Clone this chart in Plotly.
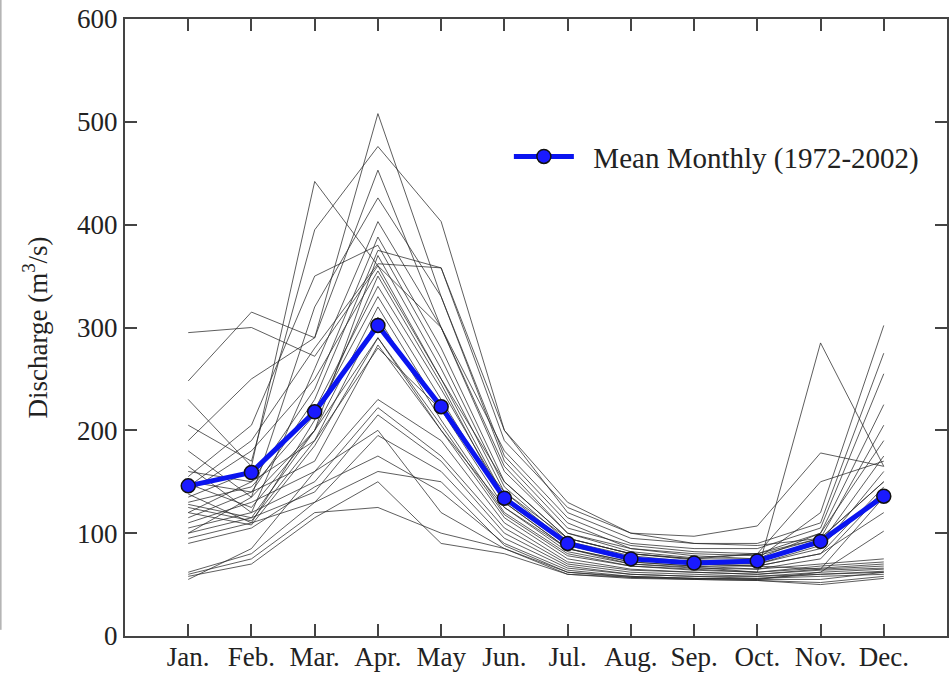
import plotly.graph_objects as go

months = ["Jan.", "Feb.", "Mar.", "Apr.", "May", "Jun.", "Jul.", "Aug.", "Sep.", "Oct.", "Nov.", "Dec."]
month_pos = list(range(1, 13))

mean_monthly = [146, 159, 218, 302, 223, 134, 90, 75, 71, 73, 92, 136]

y1972 = [295, 300, 272, 360, 300, 160, 100, 82, 76, 80, 95, 150]
y1973 = [248, 315, 290, 508, 330, 175, 110, 85, 78, 75, 120, 302]
y1974 = [230, 165, 442, 360, 250, 150, 95, 80, 74, 70, 88, 140]
y1975 = [205, 170, 395, 476, 403, 200, 120, 95, 90, 90, 110, 275]
y1976 = [190, 250, 290, 453, 300, 180, 115, 90, 85, 85, 105, 255]
y1977 = [180, 135, 320, 426, 330, 170, 105, 88, 82, 80, 100, 225]
y1978 = [165, 120, 260, 403, 300, 165, 100, 85, 80, 78, 95, 205]
y1979 = [160, 150, 240, 388, 280, 150, 95, 80, 75, 75, 100, 190]
y1980 = [155, 205, 350, 380, 270, 145, 92, 78, 72, 72, 90, 175]
y1981 = [150, 140, 230, 375, 358, 190, 125, 100, 97, 107, 178, 165]
y1982 = [148, 125, 200, 370, 260, 140, 90, 75, 70, 70, 85, 160]
y1983 = [145, 190, 280, 362, 358, 200, 130, 100, 90, 88, 95, 150]
y1984 = [140, 180, 250, 355, 250, 135, 88, 74, 70, 68, 80, 145]
y1985 = [138, 110, 210, 350, 245, 130, 85, 72, 68, 65, 75, 140]
y1986 = [135, 160, 220, 340, 240, 135, 90, 75, 70, 68, 65, 135]
y1987 = [130, 145, 215, 330, 230, 130, 85, 70, 67, 62, 285, 165]
y1988 = [128, 115, 200, 320, 220, 125, 82, 70, 66, 65, 70, 75]
y1989 = [125, 112, 190, 310, 210, 120, 80, 68, 65, 62, 68, 72]
y1990 = [120, 108, 185, 290, 205, 118, 78, 68, 64, 62, 66, 70]
y1991 = [115, 140, 170, 283, 200, 115, 75, 65, 62, 60, 65, 68]
y1992 = [110, 130, 160, 230, 190, 110, 72, 64, 62, 60, 64, 66]
y1993 = [105, 120, 150, 222, 175, 105, 70, 62, 60, 58, 62, 65]
y1994 = [100, 115, 140, 215, 170, 100, 68, 60, 58, 58, 60, 63]
y1995 = [95, 110, 130, 195, 160, 95, 66, 60, 58, 56, 60, 62]
y1996 = [90, 105, 145, 175, 140, 90, 64, 58, 56, 56, 58, 60]
y1997 = [62, 80, 130, 160, 150, 88, 62, 58, 56, 55, 55, 62]
y1998 = [60, 75, 120, 125, 100, 85, 60, 57, 55, 54, 52, 58]
y1999 = [58, 70, 115, 150, 90, 80, 60, 56, 55, 54, 50, 56]
y2000 = [55, 85, 160, 200, 120, 85, 62, 57, 56, 55, 62, 102]
y2001 = [100, 135, 200, 290, 200, 125, 85, 72, 68, 68, 80, 120]
y2002 = [120, 150, 190, 280, 220, 140, 95, 80, 75, 80, 150, 170]

years = [y1972, y1973, y1974, y1975, y1976, y1977, y1978, y1979, y1980, y1981,
         y1982, y1983, y1984, y1985, y1986, y1987, y1988, y1989, y1990, y1991,
         y1992, y1993, y1994, y1995, y1996, y1997, y1998, y1999, y2000, y2001, y2002]

y_ticks = [0, 100, 200, 300, 400, 500, 600]

fig = go.Figure()
for yr in years:
    fig.add_trace(go.Scatter(
        x=month_pos, y=yr, mode="lines",
        line=dict(color="rgba(40,40,40,0.75)", width=1),
        showlegend=False, hoverinfo="skip"))

fig.add_trace(go.Scatter(
    x=month_pos, y=mean_monthly, mode="lines+markers",
    name="\u00a0\u00a0Mean Monthly (1972-2002)",
    line=dict(color="#0a14f0", width=5),
    marker=dict(symbol="circle", size=14, color="#1a1aff",
                line=dict(color="#111111", width=1.5))))

axis_common = dict(
    showline=True, linecolor="#444444", linewidth=2, mirror="allticks",
    ticks="inside", ticklen=12, tickwidth=2, tickcolor="#444444",
    showgrid=False, zeroline=False, automargin=False,
)

fig.update_layout(
    width=950, height=673, autosize=False,
    paper_bgcolor="white", plot_bgcolor="white",
    margin=dict(l=125, r=3, t=19, b=37, autoexpand=False),
    font=dict(family="Liberation Serif", color="#222222"),
    xaxis=dict(range=[0, 13], tickmode="array", tickvals=month_pos,
               ticktext=months, ticklabelstandoff=-4,
               tickfont=dict(family="Liberation Serif", size=27, color="#222222"),
               **axis_common),
    yaxis=dict(range=[0, 600], tickmode="array", tickvals=y_ticks,
               tickfont=dict(family="Liberation Serif", size=27, color="#222222"),
               title=dict(text="Discharge (m<sup>3</sup>/s)",
                          font=dict(family="Liberation Serif", size=27, color="#222222"),
                          standoff=22),
               **axis_common),
    legend=dict(x=0.467, y=0.777, xanchor="left", yanchor="middle",
                bgcolor="rgba(0,0,0,0)", borderwidth=0, itemwidth=60,
                font=dict(family="Liberation Serif", size=29, color="#222222")),
    shapes=[dict(type="line", xref="paper", yref="paper",
                 x0=-0.151, x1=-0.151, y0=0.01, y1=1.04,
                 line=dict(color="#888888", width=1))],
)

post = ("document.body.style.margin='0';document.body.style.padding='0';"
        "document.body.style.overflow='hidden';")

fig.write_html("out.html", config={"responsive": False, "displayModeBar": False},
               post_script=post)
